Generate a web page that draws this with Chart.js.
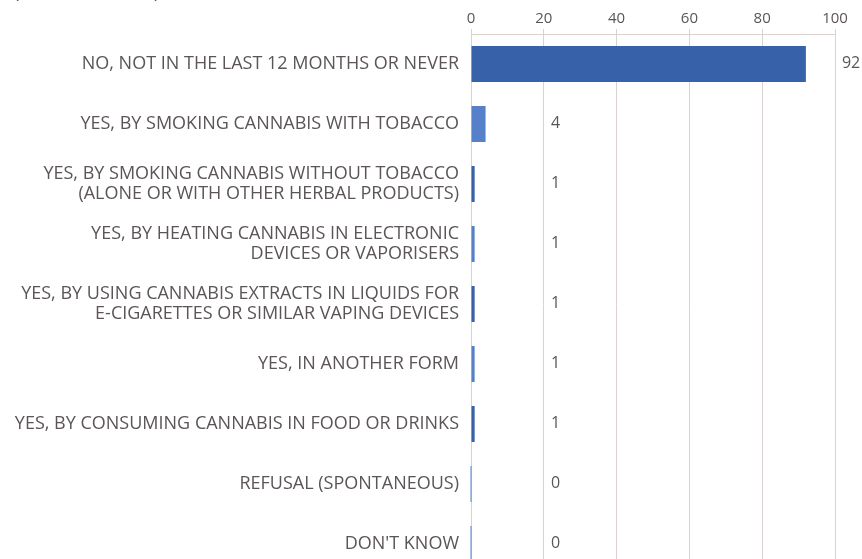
<!DOCTYPE html>
<html>
<head>
<meta charset="utf-8">
<script src="https://cdn.jsdelivr.net/npm/chart.js@4"></script>
<style>
  html, body { margin: 0; padding: 0; background: #fff; overflow: hidden; }
  #wrap { position: relative; width: 862px; height: 581px; }
  #unit { position: absolute; left: 14px; top: -21px; font: 18px "Open Sans", sans-serif; color: #5b5555; white-space: pre; }
</style>
</head>
<body>
<div id="wrap">
  <div id="unit">(% OF TOTAL, EU)</div>
  <canvas id="chart"></canvas>
</div>
<script>
// data
const categories = [
  ['NO, NOT IN THE LAST 12 MONTHS OR NEVER'],
  ['YES, BY SMOKING CANNABIS WITH TOBACCO'],
  ['YES, BY SMOKING CANNABIS WITHOUT TOBACCO', '(ALONE OR WITH OTHER HERBAL PRODUCTS)'],
  ['YES, BY HEATING CANNABIS IN ELECTRONIC', 'DEVICES OR VAPORISERS'],
  ['YES, BY USING CANNABIS EXTRACTS IN LIQUIDS FOR', 'E-CIGARETTES OR SIMILAR VAPING DEVICES'],
  ['YES, IN ANOTHER FORM'],
  ['YES, BY CONSUMING CANNABIS IN FOOD OR DRINKS'],
  ['REFUSAL (SPONTANEOUS)'],
  ["DON'T KNOW"]
];
const values = [92, 4, 1, 1, 1, 1, 1, 0, 0];
const xTicks = [0, 20, 40, 60, 80, 100];

const dark = '#3761a8';
const light = '#5681ca';
const textColor = '#5b5555';
const gridColor = '#d9d2cf';
const font = '"Open Sans", sans-serif';

// value labels next to the bars
const valueLabels = {
  id: 'valueLabels',
  afterDatasetsDraw(chart) {
    const c = chart.ctx;
    const xs = chart.scales.x;
    const meta = chart.getDatasetMeta(0);
    c.save();
    c.font = '16px ' + font;
    c.fillStyle = textColor;
    c.textAlign = 'left';
    c.textBaseline = 'middle';
    meta.data.forEach((bar, i) => {
      // thin mark at zero for empty rows
      if (values[i] === 0) {
        c.fillStyle = light;
        c.fillRect(xs.getPixelForValue(0) - 0.5, bar.y - bar.height / 2, 1, bar.height);
        c.fillStyle = textColor;
      }
      const x = Math.max(bar.x + 36, xs.getPixelForValue(22));
      c.fillText(values[i], x, bar.y - 1);
    });
    c.restore();
  }
};

new Chart(document.getElementById('chart'), {
  type: 'bar',
  data: {
    labels: categories,
    datasets: [{
      data: values,
      backgroundColor: values.map((v, i) => i % 2 ? light : dark),
      borderWidth: 0,
      barPercentage: 0.6,
      categoryPercentage: 1
    }]
  },
  options: {
    indexAxis: 'y',
    responsive: true,
    maintainAspectRatio: false,
    animation: false,
    layout: { padding: { left: 0, right: 27, top: 0, bottom: 7 } },
    plugins: { legend: { display: false }, tooltip: { enabled: false } },
    scales: {
      x: {
        position: 'top',
        min: 0, max: 100,
        afterBuildTicks: s => { s.ticks = xTicks.map(v => ({ value: v })); },
        afterFit: s => { s.height = 34; s.paddingLeft = 0; s.paddingRight = 0; },
        grid: { color: gridColor, tickLength: 5, tickColor: gridColor },
        border: { color: gridColor },
        ticks: { color: textColor, font: { family: font, size: 15 }, padding: 1 }
      },
      y: {
        afterFit: s => { s.width = 471; s.paddingTop = 0; s.paddingBottom = 0; },
        grid: { display: false, drawTicks: false },
        border: { display: false },
        ticks: { color: textColor, font: { family: font, size: 18, lineHeight: 1.11 }, padding: 12 }
      }
    }
  },
  plugins: [valueLabels]
});
</script>
</body>
</html>
